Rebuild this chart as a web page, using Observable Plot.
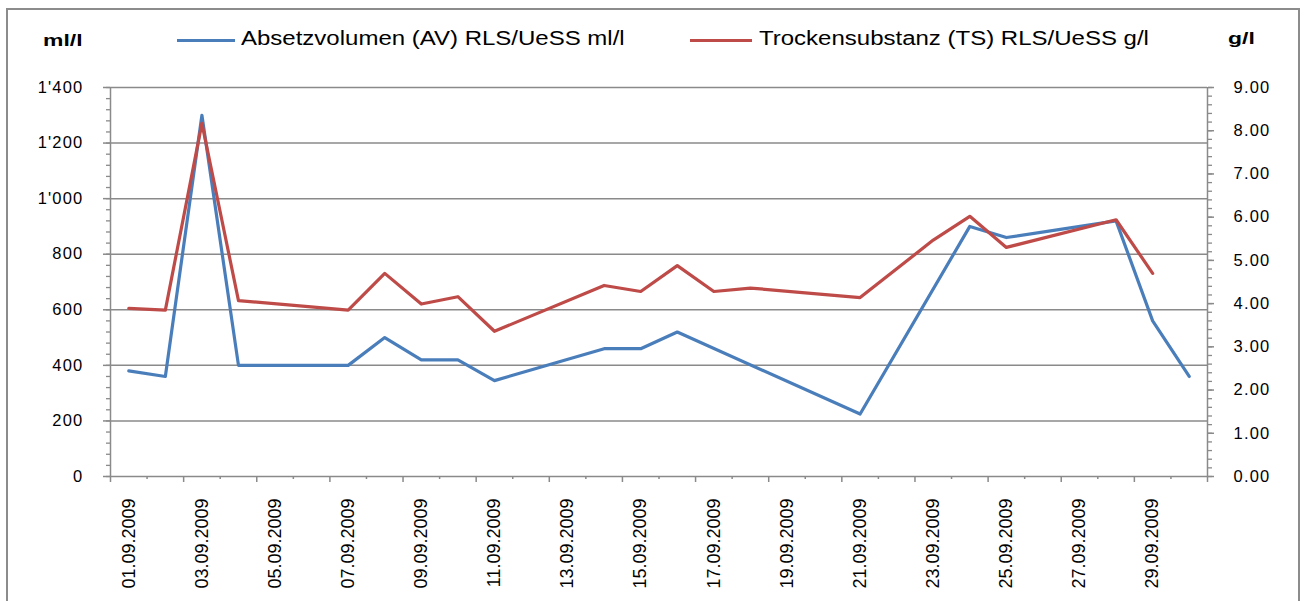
<!DOCTYPE html>
<html>
<head>
<meta charset="utf-8">
<script src="https://cdn.jsdelivr.net/npm/d3@7"></script>
<script src="https://cdn.jsdelivr.net/npm/@observablehq/plot@0.6"></script>
<style>
  html, body { margin: 0; padding: 0; overflow: hidden; background: #fff; }
  body { width: 1306px; height: 601px; position: relative; font-family: "Liberation Sans", Arial, sans-serif; color: #000; }
  #frame { position: absolute; left: 6px; top: 8px; width: 1294px; height: 700px; border: 2px solid #8c8c8c; pointer-events: none; box-sizing: border-box; }
  #head { position: relative; height: 60px; }
  #head span { position: absolute; white-space: nowrap; }
  .unit { font-weight: bold; font-size: 17px; line-height: 20px; transform: scaleX(1.35); transform-origin: left center; }
  .lt { font-size: 20px; line-height: 24px; top: 26px; transform: scaleX(1.2); transform-origin: left center; }
  .sw { height: 3px; top: 39px; }
  #chart svg g[aria-label="y-axis tick label"] text { letter-spacing: 1.2px; }
</style>
</head>
<body>
<div id="frame"></div>
<div id="head">
  <span class="unit" style="left:43px; top:31px;">ml/l</span>
  <span class="sw" style="left:177px; width:58px; background:#4A7EBB;"></span>
  <span class="lt" style="left:241px;">Absetzvolumen (AV) RLS/UeSS ml/l</span>
  <span class="sw" style="left:690px; width:62px; background:#BE4B48;"></span>
  <span class="lt" style="left:759px;">Trockensubstanz (TS) RLS/UeSS g/l</span>
  <span class="unit" style="left:1228px; top:29px;">g/l</span>
</div>
<div id="chart"></div>
<script>
// Categories (days of September 2009)
const dates = [
  "01.09.2009","02.09.2009","03.09.2009","04.09.2009","05.09.2009","06.09.2009",
  "07.09.2009","08.09.2009","09.09.2009","10.09.2009","11.09.2009","12.09.2009",
  "13.09.2009","14.09.2009","15.09.2009","16.09.2009","17.09.2009","18.09.2009",
  "19.09.2009","20.09.2009","21.09.2009","22.09.2009","23.09.2009","24.09.2009",
  "25.09.2009","26.09.2009","27.09.2009","28.09.2009","29.09.2009","30.09.2009"
];
// Absetzvolumen (AV) RLS/UeSS, ml/l  (null = no measurement)
const av = [380, 360, 1300, 400, null, null, 400, 500, 420, 420, 345, null, null, 460, 460, 520,
            null, null, null, null, 225, null, null, 900, 860, null, null, 920, 560, 360];
// Trockensubstanz (TS) RLS/UeSS, g/l  (null = no measurement)
const ts = [3.89, 3.85, 8.17, 4.07, null, null, 3.85, 4.70, 3.99, 4.16, 3.36, null, null, 4.42, 4.28, 4.88,
            4.28, 4.36, null, null, 4.14, null, 5.47, 6.02, 5.30, null, null, 5.94, 4.70, null];

// Axis ticks
const mlTicks = d3.range(0, 1401, 200);
const mlMinor = d3.range(0, 1401, 40);
const gTicks = d3.range(0, 10, 1);
const gMinor = d3.range(0, 46, 1).map(k => k * 0.2);
const labelDays = d3.range(0, 30, 2);
const boundaries = d3.range(0, 31, 1);

const G2ML = 1400 / 9; // right axis (g/l) mapped onto left axis (ml/l)
const BLUE = "#4A7EBB", RED = "#BE4B48", GRAY = "#8a8a8a";

const avData = dates.map((d, i) => ({i, v: av[i]})).filter(d => d.v != null);
const tsData = dates.map((d, i) => ({i, v: ts[i]})).filter(d => d.v != null);

const chart = Plot.plot({
  width: 1306,
  height: 541,
  marginLeft: 110,
  marginRight: 99,
  marginTop: 27,
  marginBottom: 125,
  style: {fontFamily: "'Liberation Sans', Arial, sans-serif", color: "#000", background: "transparent", overflow: "visible"},
  x: {type: "linear", domain: [0, 30]},
  y: {type: "linear", domain: [0, 1400]},
  marks: [
    // gridlines
    Plot.ruleY(mlTicks, {stroke: GRAY, strokeWidth: 1.5}),
    // axis lines
    Plot.ruleX([0, 30], {y1: 0, y2: 1400, stroke: GRAY, strokeWidth: 1.5}),
    // left axis
    Plot.axisY(mlMinor, {anchor: "left", tickSize: 4, tickFormat: () => "", stroke: GRAY, strokeWidth: 1.3, label: null}),
    Plot.axisY(mlTicks, {anchor: "left", tickSize: 7, tickPadding: 20, stroke: GRAY, strokeWidth: 1.5,
      tickFormat: d => d3.format(",")(d).replace(/,/g, "'"), fontSize: 16.5, label: null}),
    // right axis (g/l)
    Plot.axisY(gMinor.map(v => v * G2ML), {anchor: "right", tickSize: 4, tickFormat: () => "", stroke: GRAY, strokeWidth: 1.3, label: null}),
    Plot.axisY(gTicks.map(v => v * G2ML), {anchor: "right", tickSize: 6, tickPadding: 20, stroke: GRAY, strokeWidth: 1.5,
      tickFormat: d => (d / G2ML).toFixed(2), fontSize: 16.5, label: null}),
    // x axis ticks at category boundaries
    Plot.axisX(boundaries.filter(b => b % 2 === 1), {anchor: "bottom", tickSize: 3, tickFormat: () => "", stroke: GRAY, strokeWidth: 1.5, label: null}),
    Plot.axisX(boundaries.filter(b => b % 2 === 0), {anchor: "bottom", tickSize: 6, tickFormat: () => "", stroke: GRAY, strokeWidth: 1.5, label: null}),
    // x labels
    Plot.axisX(labelDays.map(i => i + 0.5), {anchor: "bottom", tickSize: 0, tickPadding: 22, tickRotate: -90,
      tickFormat: d => dates[Math.floor(d)], fontSize: 18, label: null}),
    // series
    Plot.line(avData, {x: d => d.i + 0.5, y: d => d.v, stroke: BLUE, strokeWidth: 3.2, strokeLinejoin: "round", strokeLinecap: "round"}),
    Plot.line(tsData, {x: d => d.i + 0.5, y: d => d.v * G2ML, stroke: RED, strokeWidth: 3.2, strokeLinejoin: "round", strokeLinecap: "round"})
  ]
});
document.getElementById("chart").appendChild(chart);
</script>
</body>
</html>
